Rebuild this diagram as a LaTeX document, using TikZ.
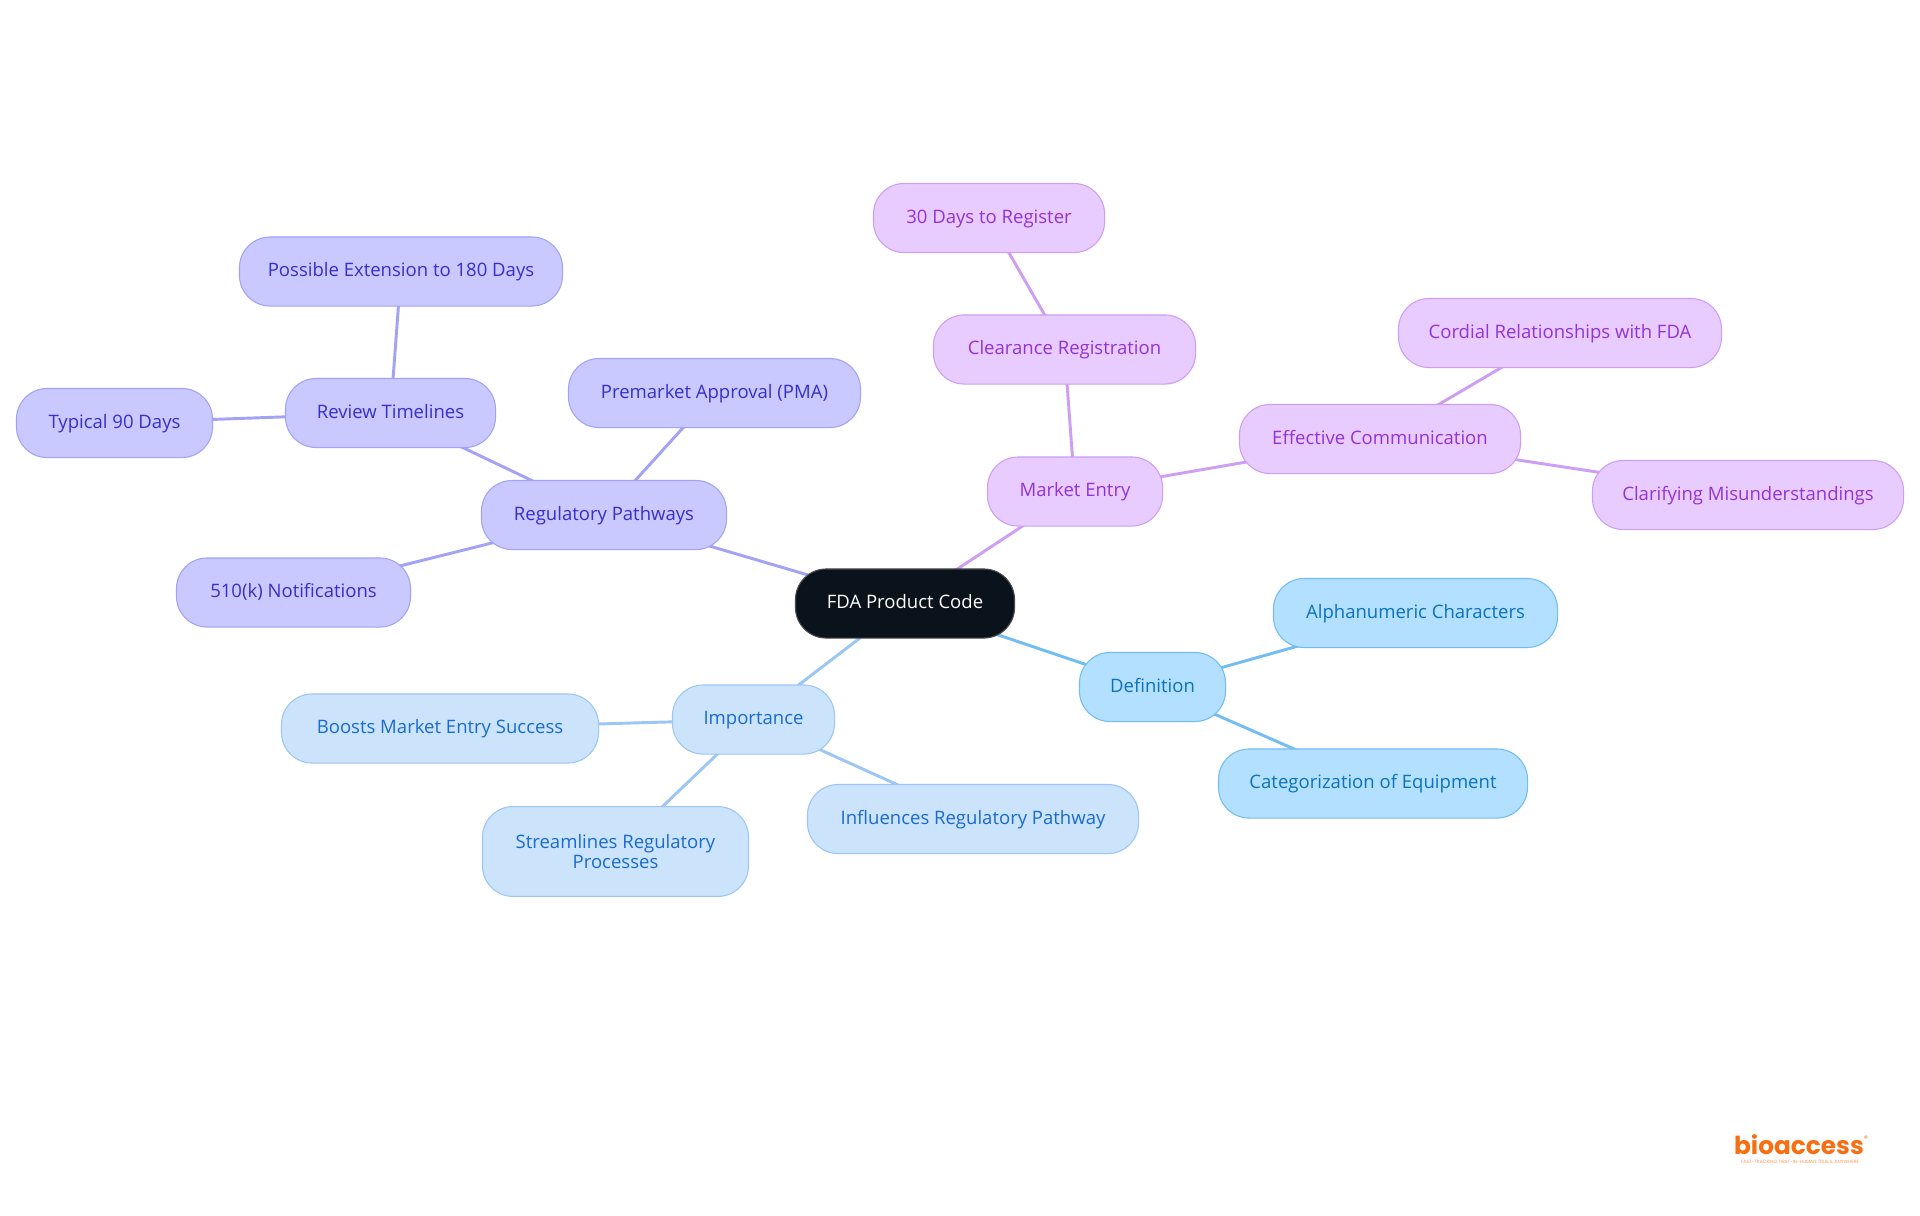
\documentclass[tikz,border=0pt]{standalone}
\usepackage{fontspec}
\setmainfont{Open Sans}
\newfontfamily\logofont{Poppins}
\usetikzlibrary{backgrounds}
\definecolor{defF}{HTML}{B3E0FF}\definecolor{defD}{HTML}{73BDF2}\definecolor{defT}{HTML}{0B72BC}
\definecolor{impF}{HTML}{CCE3FC}\definecolor{impD}{HTML}{9CC6F4}\definecolor{impT}{HTML}{1A6BCE}
\definecolor{regF}{HTML}{C9C9FF}\definecolor{regD}{HTML}{A3A3F5}\definecolor{regT}{HTML}{3730C8}
\definecolor{mktF}{HTML}{E9CCFF}\definecolor{mktD}{HTML}{CD9EF2}\definecolor{mktT}{HTML}{9333D6}
\definecolor{rootF}{HTML}{0A121C}\definecolor{logoC}{HTML}{F76F12}
\tikzset{
 x=0.75pt,y=-0.75pt,
 mapnode/.style={rectangle,rounded corners=23pt,line width=0.8pt,align=center,inner sep=0pt,font=\fontsize{13.9}{15}\selectfont,minimum height=51.8pt},
 rootnode/.style={mapnode,fill=rootF,draw=black!70!white,text=white},
 defnode/.style={mapnode,fill=defF,draw=defD,text=defT},
 impnode/.style={mapnode,fill=impF,draw=impD,text=impT},
 regnode/.style={mapnode,fill=regF,draw=regD,text=regT},
 mktnode/.style={mapnode,fill=mktF,draw=mktD,text=mktT},
 defedge/.style={draw=defD,line width=2.2pt},
 impedge/.style={draw=impD,line width=2.2pt},
 regedge/.style={draw=regD,line width=2.2pt},
 mktedge/.style={draw=mktD,line width=2.2pt},
}
\newcommand{\mapbox}[6]{\node[#1,minimum width=#5*0.75pt-0.7pt,text height=10.5pt,text depth=3pt] (#2) at (#3,#4) {#6};}
\begin{document}
\begin{tikzpicture}
\useasboundingbox (0,0) rectangle (1920,1215);
\mapbox{rootnode}{root}{905}{603.5}{220}{FDA Product Code}
\mapbox{defnode}{definition}{1152.5}{687}{147}{Definition}
\mapbox{defnode}{alpha}{1415.5}{613}{285}{Alphanumeric Characters}
\mapbox{defnode}{categ}{1373}{783.5}{310}{Categorization of Equipment}
\mapbox{impnode}{importance}{753.5}{719.5}{163}{Importance}
\mapbox{impnode}{boosts}{440}{728.5}{318}{Boosts Market Entry Success}
\mapbox{impnode}{influences}{973}{819}{332}{Influences Regulatory Pathway}
\node[impnode,minimum width=267*0.75pt-0.7pt,minimum height=67.4pt] (stream) at (615.5,851.5) {Streamlines Regulatory\\Processes};
\mapbox{regnode}{pathways}{604}{515}{246}{Regulatory Pathways}
\mapbox{regnode}{notif}{293.5}{592.5}{235}{510(k) Notifications}
\mapbox{regnode}{pma}{714.5}{393}{293}{Premarket Approval (PMA)}
\mapbox{regnode}{review}{390.5}{413}{211}{Review Timelines}
\mapbox{regnode}{typical}{114.5}{423}{197}{Typical 90 Days}
\mapbox{regnode}{extension}{401}{271.5}{324}{Possible Extension to 180 Days}
\mapbox{mktnode}{market}{1075}{491.5}{176}{Market Entry}
\mapbox{mktnode}{clearance}{1064.5}{349.5}{263}{Clearance Registration}
\mapbox{mktnode}{thirty}{989}{218}{232}{30 Days to Register}
\mapbox{mktnode}{effective}{1380}{439}{282}{Effective Communication}
\mapbox{mktnode}{cordial}{1560}{333}{324}{Cordial Relationships with FDA}
\mapbox{mktnode}{clarify}{1748}{495}{312}{Clarifying Misunderstandings}
\begin{pgfonlayer}{background}
\fill[white] (0,0) rectangle (1920,1215);
\draw[defedge] (root.center)--(definition.center);
\draw[defedge] (definition.center)--(alpha.center);
\draw[defedge] (definition.center)--(categ.center);
\draw[impedge] (root.center)--(importance.center);
\draw[impedge] (importance.center)--(boosts.center);
\draw[impedge] (importance.center)--(influences.center);
\draw[impedge] (importance.center)--(stream.center);
\draw[regedge] (root.center)--(pathways.center);
\draw[regedge] (pathways.center)--(notif.center);
\draw[regedge] (pathways.center)--(pma.center);
\draw[regedge] (pathways.center)--(review.center);
\draw[regedge] (review.center)--(typical.center);
\draw[regedge] (review.center)--(extension.center);
\draw[mktedge] (root.center)--(market.center);
\draw[mktedge] (market.center)--(clearance.center);
\draw[mktedge] (clearance.center)--(thirty.center);
\draw[mktedge] (market.center)--(effective.center);
\draw[mktedge] (effective.center)--(cordial.center);
\draw[mktedge] (effective.center)--(clarify.center);
\end{pgfonlayer}
\node[text=logoC,inner sep=0pt,anchor=base,font=\logofont\bfseries\fontsize{18.6}{20}\selectfont] (logo) at (1799,1154.5) {bioaccess};
\node[text=logoC,inner sep=0pt,font=\logofont\fontsize{6}{6}\selectfont] (reg) at (1866,1139) {®};
\node[text=logoC!70!white,inner sep=0pt,font=\logofont\fontsize{3.5}{4}\selectfont] (tag) at (1800,1162) {FAST-TRACKING FIRST-IN-HUMAN TRIALS, ANYWHERE};
\end{tikzpicture}
\end{document}
